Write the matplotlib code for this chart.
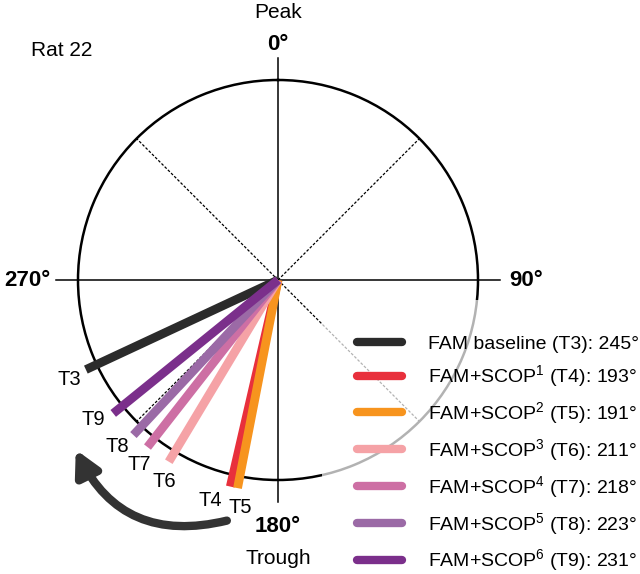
import numpy as np
import matplotlib
matplotlib.use("Agg")
import matplotlib.pyplot as plt
from matplotlib.lines import Line2D

plt.rcParams['font.family'] = ['Liberation Sans', 'DejaVu Sans']
plt.rcParams['mathtext.default'] = 'regular'

# phase angles (degrees, clockwise from peak)
session_labels = ['T3', 'T4', 'T5', 'T6', 'T7', 'T8', 'T9']
conditions = ['FAM baseline', 'FAM+SCOP$^{1}$', 'FAM+SCOP$^{2}$', 'FAM+SCOP$^{3}$',
              'FAM+SCOP$^{4}$', 'FAM+SCOP$^{5}$', 'FAM+SCOP$^{6}$']
phases = [245, 193, 191, 211, 218, 223, 231]
colors = ['#2b2b2b', '#e8303c', '#f7941e', '#f5a2a6', '#cd6fa4', '#9b6aa6', '#7b2f8b']

# small angular nudges so the T labels don't collide
label_shift = [-0.5, 4, -1.5, -1.5, -1, 1, 2]

fig = plt.figure(figsize=(6.4, 5.74), dpi=100)
ax = fig.add_axes([78 / 640, 1 - 480 / 574, 400 / 640, 400 / 574], projection='polar')
ax.set_theta_zero_location('N')
ax.set_theta_direction(-1)
ax.set_ylim(0, 1)
ax.set_xticks([])
ax.set_yticks([])
ax.grid(False)
ax.spines['polar'].set_linewidth(1.8)
ax.spines['polar'].set_color('black')

# cross hairs
for deg in [0, 90, 180, 270]:
    ax.plot([np.radians(deg)] * 2, [0, 1.11], color='black', lw=1.1, clip_on=False, zorder=2)
# dashed diagonals
for deg in [45, 135, 225, 315]:
    ax.plot([np.radians(deg)] * 2, [0, 1], color='black', lw=0.9,
            dashes=(2.2, 1.4), zorder=2)

# phase vectors
for i, (ph, c) in enumerate(zip(phases, colors)):
    ax.plot([np.radians(ph)] * 2, [0, 1.06], color=c, lw=6.3, solid_capstyle='butt',
            clip_on=False, zorder=3 + i)
    ax.text(np.radians(ph + label_shift[i]), 1.155, session_labels[i], fontsize=14.5,
            ha='center', va='center', clip_on=False)

# shift arrow
ax.annotate('', xy=(np.radians(230), 1.32), xytext=(np.radians(192), 1.23),
            annotation_clip=False,
            arrowprops=dict(arrowstyle='-|>,head_length=0.85,head_width=0.45',
                            connectionstyle='arc3,rad=-0.4', color='#333333',
                            lw=6, mutation_scale=17, shrinkA=0, shrinkB=0))

# angle labels
kw = dict(ha='center', va='center', fontsize=16, fontweight='bold', clip_on=False)
ax.text(0, 1.18, '0°', **kw)
ax.text(np.radians(90), 1.24, '90°', **kw)
ax.text(np.radians(180), 1.23, '180°', **kw)
ax.text(np.radians(270), 1.255, '270°', **kw)
ax.text(0, 1.34, 'Peak', ha='center', va='center', fontsize=15, clip_on=False)
ax.text(np.radians(180), 1.39, 'Trough', ha='center', va='center', fontsize=15, clip_on=False)

fig.text(62 / 640, 1 - 51 / 574, 'Rat 22', ha='center', va='center', fontsize=15)

handles = [Line2D([0], [0], color=c, lw=6, solid_capstyle='round') for c in colors]
labels = [f'{cond} ({s}): {p}°' for cond, s, p in zip(conditions, session_labels, phases)]
leg = fig.legend(handles, labels, loc='upper left',
                 bbox_to_anchor=(322 / 640, 1 - 300 / 574), fontsize=14,
                 frameon=True, fancybox=False, framealpha=0.7, edgecolor='none',
                 facecolor='white', borderpad=1.8, borderaxespad=0,
                 handlelength=2.3, handletextpad=1.35, labelspacing=0.56)

fig.savefig('out.png', dpi=100)
